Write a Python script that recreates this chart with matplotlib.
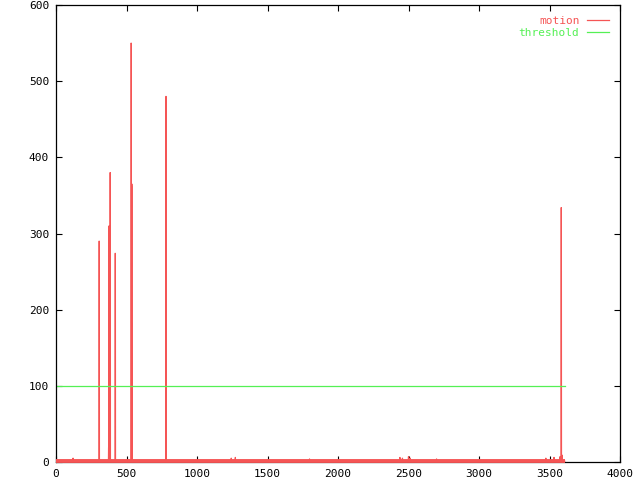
import matplotlib
matplotlib.use("Agg")
import matplotlib.pyplot as plt

# motion per frame (only frames that leave the noise floor are listed)
motion_frames = [0, 120, 121, 122, 305, 306, 307, 308, 372, 373, 374, 375,
                 376, 377, 378, 379, 383, 384, 385, 386, 419, 420, 421, 422,
                 532, 533, 534, 535, 536, 537, 538, 539, 540, 541, 779, 780,
                 781, 782, 1242, 1243, 1244, 1271, 1272, 1273, 1797, 1798,
                 1799, 2438, 2439, 2440, 2456, 2457, 2458, 2499, 2500, 2501,
                 2511, 2512, 2513, 2698, 2699, 2700, 3473, 3474, 3475, 3531,
                 3532, 3533, 3574, 3575, 3576, 3582, 3583, 3584, 3585, 3588,
                 3589, 3590, 3607, 3608]
motion_values = [1, 1, 5, 1, 1, 290, 289, 1, 1, 19, 20, 2, 310, 309, 1, 1,
                 1, 380, 379, 1, 1, 274, 273, 1, 1, 550, 548, 1, 2, 364, 365,
                 362, 2, 1, 1, 480, 479, 1, 1, 5, 1, 1, 6, 1, 1, 4, 1, 1, 6,
                 1, 1, 5, 1, 1, 7, 1, 1, 5, 1, 1, 4, 1, 1, 5, 1, 1, 6, 1, 1,
                 7, 1, 1, 334, 333, 1, 1, 9, 1, 1, 1]
# the dense low-level noise shows as a thick band along the bottom
noise_frames = [0, 3608]
noise_values = [1, 1]

threshold_frames = [0, 3610]
threshold_values = [100, 100]

red = "#f55555"
green = "#55f055"

fig = plt.figure(figsize=(6.4, 4.8), dpi=100)
ax = fig.add_axes([56 / 640, 18 / 480, 564 / 640, 457 / 480])

ax.plot(noise_frames, noise_values, color=red, lw=2.8, solid_capstyle="butt",
        clip_on=False, zorder=3)
ax.plot(motion_frames, motion_values, color=red, lw=0.9, label="motion")
ax.plot(threshold_frames, threshold_values, color=green, lw=0.9,
        label="threshold")

ax.set_xlim(0, 4000)
ax.set_ylim(0, 600)
ax.set_xticks(range(0, 4001, 500))
ax.set_yticks(range(0, 601, 100))
ax.tick_params(direction="in", length=4, width=0.8, top=True, right=True,
               labelsize=8, pad=5)
for lab in ax.get_xticklabels() + ax.get_yticklabels():
    lab.set_fontfamily("DejaVu Sans Mono")
for s in ax.spines.values():
    s.set_linewidth(0.9)

leg = ax.legend(loc="upper right", frameon=False, markerfirst=False,
                prop={"family": "DejaVu Sans Mono", "size": 8},
                handlelength=2.0, handletextpad=0.65, labelspacing=0.15,
                borderaxespad=0.6)
for txt, line in zip(leg.get_texts(), leg.get_lines()):
    txt.set_color(line.get_color())

fig.savefig("out.png", dpi=100)
